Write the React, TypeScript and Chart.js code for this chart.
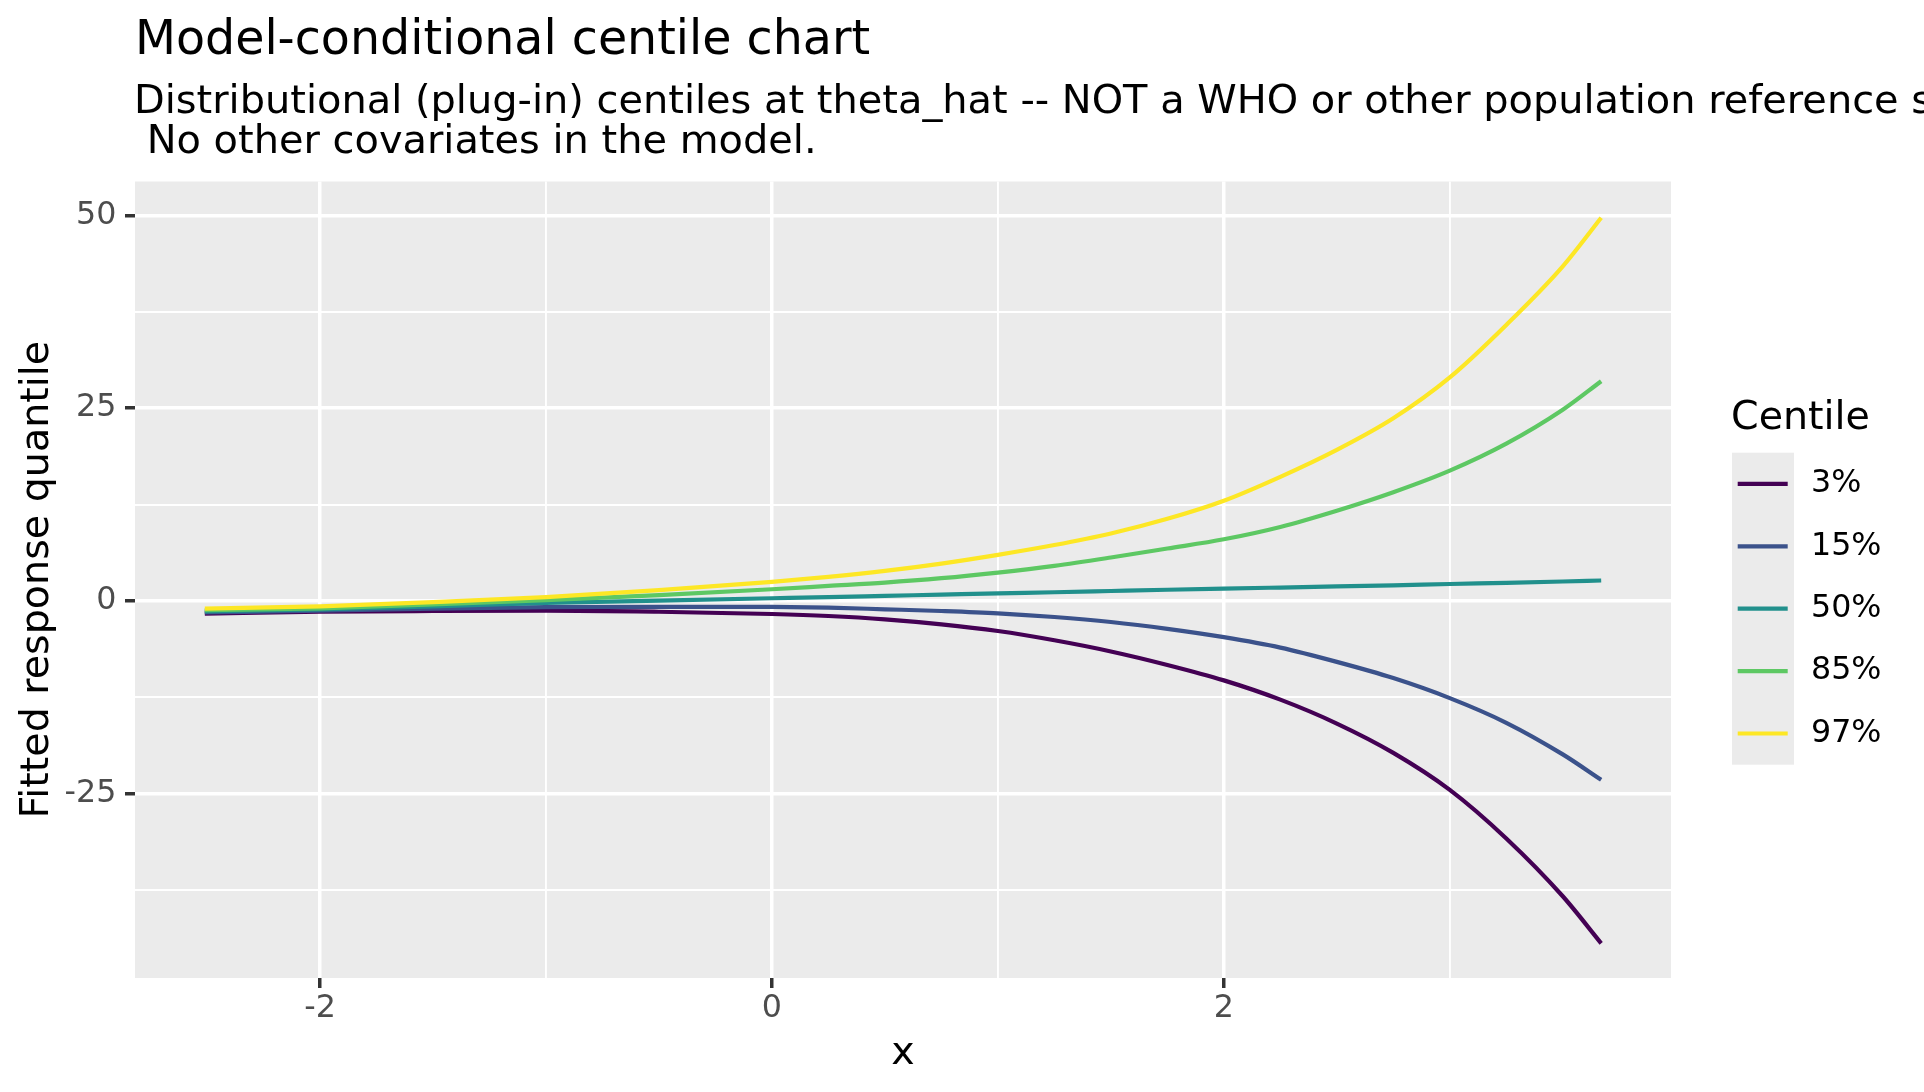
import React, { useEffect, useRef } from 'react';
import { Chart, registerables } from 'chart.js';

Chart.register(...registerables);

// ---- data ----
const xValues = [-2.51, -2, -1.5, -1, -0.5, 0, 0.25, 0.5, 0.75, 1, 1.25, 1.5, 1.75, 2, 2.25, 2.5, 2.75, 3, 3.25, 3.5, 3.67];
const centile3 = [-1.65, -1.4, -1.3, -1.25, -1.4, -1.69, -1.95, -2.38, -3.03, -3.9, -5.1, -6.55, -8.3, -10.3, -12.8, -15.9, -19.7, -24.5, -30.8, -38.3, -44.4];
const centile15 = [-1.5, -1.25, -1.0, -0.8, -0.75, -0.78, -0.87, -1.08, -1.3, -1.6, -2.08, -2.73, -3.62, -4.7, -6.05, -7.9, -10.0, -12.6, -15.8, -19.9, -23.2];
const centile50 = [-1.35, -1.1, -0.7, -0.25, 0.05, 0.35, 0.5, 0.66, 0.82, 0.98, 1.13, 1.29, 1.45, 1.6, 1.74, 1.88, 2.03, 2.2, 2.35, 2.52, 2.65];
const centile85 = [-1.2, -0.95, -0.45, 0.1, 0.75, 1.52, 1.95, 2.38, 2.95, 3.68, 4.55, 5.63, 6.8, 8.0, 9.6, 11.7, 14.1, 16.9, 20.4, 24.8, 28.5];
const centile97 = [-1.0, -0.7, -0.15, 0.5, 1.4, 2.47, 3.12, 3.9, 4.85, 5.98, 7.25, 8.75, 10.65, 13.0, 16.1, 19.6, 23.7, 29.0, 35.8, 43.4, 49.7];

const centileLabels = ['3%', '15%', '50%', '85%', '97%'];
const centileSeries = [centile3, centile15, centile50, centile85, centile97];
const centileColors = ['#440154', '#3B528B', '#21908C', '#5DC863', '#FDE725'];

const xMajorTicks = [-2, 0, 2];
const xMinorTicks = [-1, 1, 3];
const yMajorTicks = [-25, 0, 25, 50];
const yMinorTicks = [-37.5, -12.5, 12.5, 37.5];

const titleText = 'Model-conditional centile chart';
const subtitleLines = [
  'Distributional (plug-in) centiles at theta_hat -- NOT a WHO or other population reference standard.',
  ' No other covariates in the model.',
];
const xTitle = 'x';
const yTitle = 'Fitted response quantile';
const legendTitle = 'Centile';

// ---- layout constants ----
const W = 1924;
const H = 1092;
const X_MIN = -2.819;
const X_MAX = 3.979;
const Y_MIN = -48.9;
const Y_MAX = 54.4;
const FONT = '"DejaVu Sans", "Liberation Sans", sans-serif';

const decorPlugin = {
  id: 'decor',
  beforeDraw(chart: any) {
    const { ctx, chartArea: a } = chart;
    ctx.save();
    ctx.fillStyle = '#FFFFFF';
    ctx.fillRect(0, 0, chart.width, chart.height);
    ctx.fillStyle = '#EBEBEB';
    ctx.fillRect(a.left, a.top, a.right - a.left, a.bottom - a.top);
    ctx.restore();
  },
  afterDraw(chart: any) {
    const { ctx, chartArea: a } = chart;
    ctx.save();
    ctx.fillStyle = '#000000';
    ctx.textAlign = 'left';
    ctx.textBaseline = 'alphabetic';
    // title
    ctx.font = `47.5px ${FONT}`;
    ctx.fillText(titleText, 135, 54);
    // subtitle
    ctx.font = `39.9px ${FONT}`;
    ctx.fillText(subtitleLines[0], 134, 112.7);
    ctx.fillText(subtitleLines[1], 134, 153.3);
    // x axis title
    ctx.font = `39.6px ${FONT}`;
    ctx.textAlign = 'center';
    ctx.fillText(xTitle, (a.left + a.right) / 2, 1064);
    // y axis title
    ctx.save();
    ctx.translate(48, (a.top + a.bottom) / 2);
    ctx.rotate(-Math.PI / 2);
    ctx.fillText(yTitle, 0, 0);
    ctx.restore();
    // legend
    ctx.textAlign = 'left';
    ctx.fillText(legendTitle, 1731, 429.3);
    const keyTop = 452.7;
    const keyH = 62.4;
    ctx.fillStyle = '#EBEBEB';
    ctx.fillRect(1732, keyTop, 62, keyH * centileLabels.length);
    ctx.font = `31.7px ${FONT}`;
    ctx.textBaseline = 'middle';
    centileLabels.forEach((lab, i) => {
      const cy = keyTop + keyH * (i + 0.5);
      ctx.strokeStyle = centileColors[i];
      ctx.lineWidth = 4.2;
      ctx.beginPath();
      ctx.moveTo(1737.7, cy);
      ctx.lineTo(1787.7, cy);
      ctx.stroke();
      ctx.fillStyle = '#000000';
      ctx.fillText(lab, 1811, cy);
    });
    ctx.restore();
  },
};

function isMajor(list: number[], v: number) {
  return list.some((m) => Math.abs(m - v) < 1e-9);
}

export default function App() {
  const ref = useRef<HTMLCanvasElement>(null);

  useEffect(() => {
    const canvas = ref.current;
    if (!canvas) return;
    const order = [4, 3, 2, 1, 0]; // draw 97% on top
    const datasets = order.map((i) => ({
      label: centileLabels[i],
      data: xValues.map((x, k) => ({ x, y: centileSeries[i][k] })),
      borderColor: centileColors[i],
      backgroundColor: centileColors[i],
      borderWidth: 4.2,
      pointRadius: 0,
      fill: false,
      cubicInterpolationMode: 'monotone' as const,
    }));

    const chart = new Chart(canvas, {
      type: 'line',
      data: { datasets },
      options: {
        responsive: false,
        animation: false,
        devicePixelRatio: 1,
        layout: { padding: { top: 181.5, right: 253, bottom: 0, left: 0 } },
        plugins: {
          legend: { display: false },
          tooltip: { enabled: false },
          title: { display: false },
        },
        elements: { point: { radius: 0 } },
        scales: {
          x: {
            type: 'linear',
            min: X_MIN,
            max: X_MAX,
            afterBuildTicks: (s: any) => {
              s.ticks = [...xMajorTicks, ...xMinorTicks].sort((p, q) => p - q).map((v) => ({ value: v }));
            },
            afterFit: (s: any) => {
              s.height = H - 978;
            },
            border: { display: false },
            grid: {
              color: '#FFFFFF',
              lineWidth: (c: any) => (c.tick && isMajor(xMajorTicks, c.tick.value) ? 3.5 : 1.9),
              tickColor: (c: any) => (c.tick && isMajor(xMajorTicks, c.tick.value) ? '#333333' : 'rgba(0,0,0,0)'),
              tickLength: 10,
              tickWidth: 3.5,
              drawTicks: true,
            },
            ticks: {
              autoSkip: false,
              maxRotation: 0,
              minRotation: 0,
              padding: 2,
              color: '#4D4D4D',
              font: { family: FONT, size: 31.7 },
              callback: (v: any) => (isMajor(xMajorTicks, Number(v)) ? String(v) : ''),
            },
          },
          y: {
            type: 'linear',
            min: Y_MIN,
            max: Y_MAX,
            afterBuildTicks: (s: any) => {
              s.ticks = [...yMajorTicks, ...yMinorTicks].sort((p, q) => p - q).map((v) => ({ value: v }));
            },
            afterFit: (s: any) => {
              s.width = 135;
            },
            border: { display: false },
            grid: {
              color: '#FFFFFF',
              lineWidth: (c: any) => (c.tick && isMajor(yMajorTicks, c.tick.value) ? 3.5 : 1.9),
              tickColor: (c: any) => (c.tick && isMajor(yMajorTicks, c.tick.value) ? '#333333' : 'rgba(0,0,0,0)'),
              tickLength: 10,
              tickWidth: 3.5,
              drawTicks: true,
            },
            ticks: {
              autoSkip: false,
              padding: 8.7,
              color: '#4D4D4D',
              font: { family: FONT, size: 31.7 },
              callback: (v: any) => (isMajor(yMajorTicks, Number(v)) ? String(v) : ''),
            },
          },
        },
      },
      plugins: [decorPlugin],
    });

    return () => chart.destroy();
  }, []);

  return (
    <div style={{ position: 'fixed', left: 0, top: 0, width: W, height: H, background: '#FFFFFF', overflow: 'hidden' }}>
      <canvas ref={ref} width={W} height={H} style={{ display: 'block', width: W, height: H }} />
    </div>
  );
}
